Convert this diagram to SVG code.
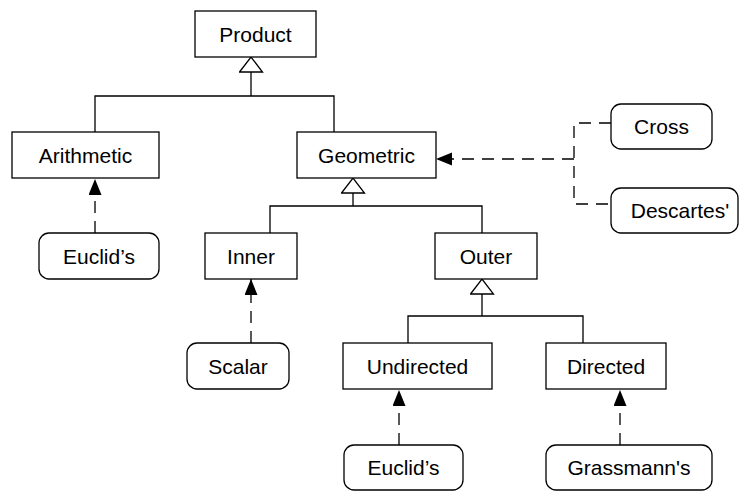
<svg xmlns="http://www.w3.org/2000/svg" width="739" height="491" viewBox="0 0 739 491">
<style>
.box{fill:#fff;stroke:#000;stroke-width:1.3}
.t{font-family:"Liberation Sans",Arial,sans-serif;font-size:21px;fill:#000;text-anchor:middle}
.ln{fill:none;stroke:#000;stroke-width:1.3}
.dash{fill:none;stroke:#000;stroke-width:1.3;stroke-dasharray:12,8}
</style>
<defs>
<marker id="hollow" markerUnits="userSpaceOnUse" markerWidth="18" markerHeight="26" refX="15" refY="11.5" orient="auto" viewBox="-1 -1 18 26">
<path d="M0,0 L15,11.5 L0,23 z" fill="#fff" stroke="#000" stroke-width="1.3"/>
</marker>
<marker id="filled" markerUnits="userSpaceOnUse" markerWidth="18" markerHeight="15" refX="16" refY="6.5" orient="auto" viewBox="0 0 18 15">
<path d="M0,0 L16,6.5 L0,13 z" fill="#000" stroke="none"/>
</marker>
</defs>
<g id="connectors">
<path class="ln" d="M95,132 V96 H334 V132"/>
<path class="ln" d="M251,96 V57" marker-end="url(#hollow)"/>
<path class="ln" d="M270,233 V206 H482 V233"/>
<path class="ln" d="M353,206 V178" marker-end="url(#hollow)"/>
<path class="ln" d="M408,343 V316 H583 V343"/>
<path class="ln" d="M482,316 V279" marker-end="url(#hollow)"/>
<path class="dash" d="M95,233 V179" marker-end="url(#filled)"/>
<path class="dash" d="M251,343 V279" marker-end="url(#filled)"/>
<path class="dash" d="M399,445 V390" marker-end="url(#filled)"/>
<path class="dash" d="M620,445 V390" marker-end="url(#filled)"/>
<path class="dash" d="M611,123 H574 V204 H611"/>
<path class="dash" d="M574,159 H436" marker-end="url(#filled)"/>
</g>
<g id="product"><rect class="box" x="195" y="11" width="121" height="46"/><text class="t" x="255.5" y="41.5">Product</text></g>
<g id="arithmetic"><rect class="box" x="12" y="132" width="147" height="46"/><text class="t" x="85.5" y="162.5">Arithmetic</text></g>
<g id="geometric"><rect class="box" x="297" y="132" width="139" height="46"/><text class="t" x="366.5" y="162.5">Geometric</text></g>
<g id="cross"><rect class="box" x="611" y="104" width="101" height="45" rx="10"/><text class="t" x="661.5" y="134">Cross</text></g>
<g id="descartes"><rect class="box" x="611" y="188" width="127" height="45" rx="10"/><text class="t" x="680" y="218">Descartes'</text></g>
<g id="euclid1"><rect class="box" x="39" y="233" width="120" height="46" rx="10"/><text class="t" x="99" y="263.5">Euclid’s</text></g>
<g id="inner"><rect class="box" x="205" y="233" width="92" height="46"/><text class="t" x="251" y="263.5">Inner</text></g>
<g id="outer"><rect class="box" x="435" y="233" width="102" height="46"/><text class="t" x="486" y="263.5">Outer</text></g>
<g id="scalar"><rect class="box" x="187" y="343" width="102" height="46" rx="10"/><text class="t" x="238" y="373.5">Scalar</text></g>
<g id="undirected"><rect class="box" x="343" y="343" width="149" height="46"/><text class="t" x="417.5" y="373.5">Undirected</text></g>
<g id="directed"><rect class="box" x="546" y="343" width="120" height="46"/><text class="t" x="606" y="373.5">Directed</text></g>
<g id="euclid2"><rect class="box" x="344" y="445" width="119" height="45" rx="10"/><text class="t" x="403.5" y="475">Euclid’s</text></g>
<g id="grassmann"><rect class="box" x="546" y="445" width="166" height="45" rx="10"/><text class="t" x="629" y="475">Grassmann's</text></g>
</svg>
